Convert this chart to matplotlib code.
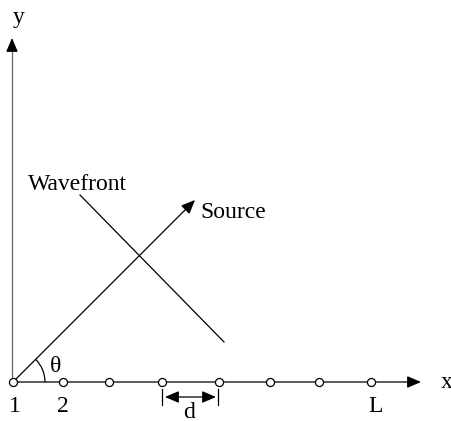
import matplotlib
matplotlib.use("Agg")
import matplotlib.pyplot as plt
from matplotlib.patches import Arc

plt.rcParams["font.family"] = ["Liberation Serif", "DejaVu Serif"]

# Sensor positions along x axis (pixel units in drawing space)
sensor_x = [13, 63, 109, 162, 219, 270, 319, 371]
sensor_labels = ["1", "2", "L"]
sensor_label_x = [15, 63, 376]

W, H = 452, 421
fig = plt.figure(figsize=(W / 100, H / 100), dpi=100)
ax = fig.add_axes([0, 0, 1, 1])
ax.set_xlim(0, W)
ax.set_ylim(H, 0)
ax.axis("off")

fs = 17
ox, oy = 13, 382

arrow_kw = dict(arrowstyle="-|>,head_length=0.7,head_width=0.3", color="black", lw=0.9,
                shrinkA=0, shrinkB=0, mutation_scale=12)
# x axis
ax.annotate("", xy=(421, oy), xytext=(ox, oy), arrowprops=arrow_kw)
# y axis: gray shaft, black head
ax.plot([ox - 1, ox - 1], [oy, 48], color="#666666", lw=0.9)
ax.annotate("", xy=(ox - 1, 38), xytext=(ox - 1, 50), arrowprops=arrow_kw)
# source arrow
ax.annotate("", xy=(195, 200), xytext=(ox, oy), arrowprops=arrow_kw)
# wavefront line
ax.plot([80, 224], [195, 342], color="black", lw=0.9)

# sensors
ax.plot(sensor_x, [oy] * len(sensor_x), linestyle="none", marker="o", markersize=5.8,
        markerfacecolor="white", markeredgecolor="black", markeredgewidth=0.9, zorder=5)

# angle arc
ax.add_patch(Arc((ox, oy), 64, 64, theta1=-45, theta2=0, color="black", lw=0.9))

# spacing d
d0, d1 = sensor_x[3], sensor_x[4]
ax.plot([d0, d0], [389, 405], color="black", lw=0.9)
ax.plot([d1 - 1, d1 - 1], [389, 405], color="black", lw=0.9)
ax.annotate("", xy=(d1 - 3, 397), xytext=(d0 + 3, 397),
            arrowprops=dict(arrowstyle="<|-|>,head_length=0.7,head_width=0.3", color="black",
                            lw=0.9, shrinkA=0, shrinkB=0, mutation_scale=12))

# text
ax.text(19, 17, "y", fontsize=fs, ha="center", va="center")
ax.text(447, 382, "x", fontsize=fs, ha="center", va="center")
ax.text(28, 185, "Wavefront", fontsize=fs, ha="left", va="center")
ax.text(200, 212, "Source", fontsize=fs, ha="left", va="center")
ax.text(56, 366, "θ", fontsize=fs, ha="center", va="center")
ax.text(189, 412, "d", fontsize=fs, ha="center", va="center")
for lab, lx in zip(sensor_labels, sensor_label_x):
    ax.text(lx, 407, lab, fontsize=fs, ha="center", va="center")

fig.savefig("out.png", dpi=100)
